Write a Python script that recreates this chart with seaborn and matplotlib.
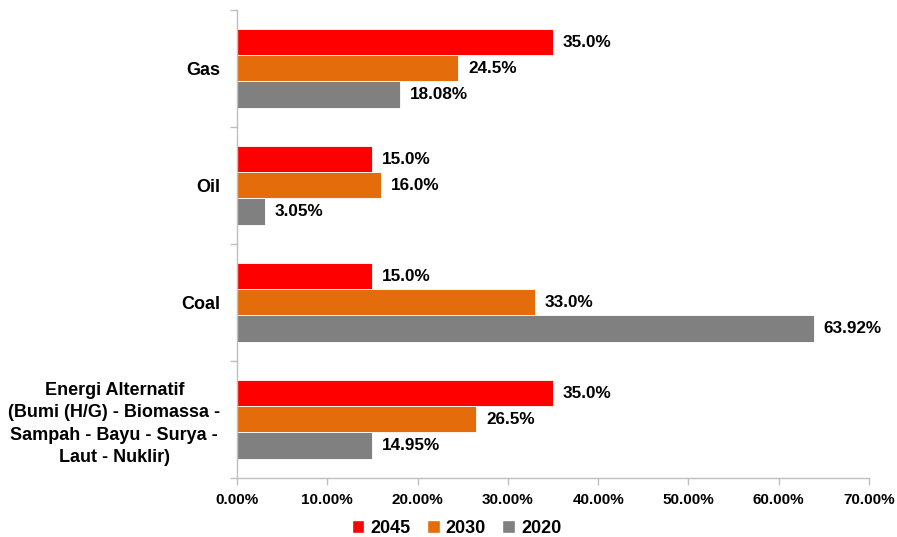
import matplotlib
matplotlib.use("Agg")
import matplotlib.pyplot as plt
from matplotlib.patches import Patch
from matplotlib.ticker import FixedLocator, MultipleLocator, FuncFormatter
import seaborn as sns
import pandas as pd

# Energy mix share (%) per source and target year
categories = ["Gas", "Oil", "Coal",
              "Energi Alternatif\n(Bumi (H/G) - Biomassa -\nSampah - Bayu - Surya -\nLaut - Nuklir)"]
years = ["2045", "2030", "2020"]
share_2045 = [35.0, 15.0, 15.0, 35.0]
share_2030 = [24.5, 16.0, 33.0, 26.5]
share_2020 = [18.08, 3.05, 63.92, 14.95]
label_decimals = {"2045": 1, "2030": 1, "2020": 2}
colors = {"2045": "#FF0000", "2030": "#E46C0A", "2020": "#808080"}

series = {"2045": share_2045, "2030": share_2030, "2020": share_2020}
df = pd.DataFrame([
    {"source": c, "year": y, "share": v}
    for y in years for c, v in zip(categories, series[y])
])

sns.set_style("white")
plt.rcParams["font.family"] = ["Liberation Sans", "DejaVu Sans"]
plt.rcParams["font.weight"] = "bold"
plt.rcParams["text.color"] = "black"
plt.rcParams["xtick.labelcolor"] = "black"
plt.rcParams["ytick.labelcolor"] = "black"

fig = plt.figure(figsize=(8.97, 5.37), dpi=100)
ax = fig.add_axes([0.2642, 0.1099, 0.7046, 0.8715])

sns.barplot(data=df, y="source", x="share", hue="year", order=categories,
            hue_order=years, palette=colors, orient="h", width=0.667,
            saturation=1, edgecolor="white", linewidth=0.6, legend=False, ax=ax)

for cont, y in zip(ax.containers, years):
    d = label_decimals[y]
    ax.bar_label(cont, labels=[f"{v:.{d}f}%" for v in series[y]],
                 padding=7, fontsize=12.3, fontweight="bold", color="black")

ax.set_xlim(0, 70)
ax.set_ylim(len(categories) - 0.5, -0.5)
ax.xaxis.set_major_locator(MultipleLocator(10))
ax.xaxis.set_major_formatter(FuncFormatter(lambda v, p: f"{v:.2f}%"))
ax.yaxis.set_minor_locator(FixedLocator([i - 0.5 for i in range(len(categories) + 1)]))

ax.set_xlabel("")
ax.set_ylabel("")
for s in ["top", "right"]:
    ax.spines[s].set_visible(False)
for s in ["left", "bottom"]:
    ax.spines[s].set_color("#BFBFBF")
    ax.spines[s].set_linewidth(1.0)

ax.tick_params(axis="x", which="major", direction="out", length=5, width=1,
               color="#BFBFBF", pad=6, labelsize=11, bottom=True)
ax.tick_params(axis="y", which="major", length=0, pad=12, labelsize=13, left=False)
ax.tick_params(axis="y", which="minor", direction="out", length=5, width=1,
               color="#BFBFBF", left=True)
for t in ax.get_yticklabels():
    t.set_multialignment("center")
    t.set_linespacing(1.42)
    t.set_fontweight("bold")
for t in ax.get_xticklabels():
    t.set_fontweight("bold")

handles = [Patch(facecolor=colors[y], label=y) for y in years]
fig.legend(handles=handles, loc="lower center", bbox_to_anchor=(0.509, -0.03),
           ncol=3, frameon=False, handlelength=0.7, handleheight=0.7,
           handletextpad=0.35, columnspacing=0.9, prop={"weight": "bold", "size": 13})

fig.savefig("out.png", dpi=100)
